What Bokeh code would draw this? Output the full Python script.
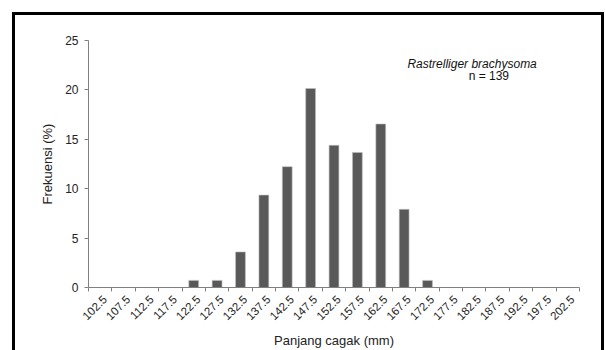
import math
from bokeh.plotting import figure
from bokeh.models import Range1d, FixedTicker, Label
from bokeh.embed import file_html
from bokeh.resources import INLINE

# ---- data ----
categories = ["102.5", "107.5", "112.5", "117.5", "122.5", "127.5", "132.5",
              "137.5", "142.5", "147.5", "152.5", "157.5", "162.5", "167.5",
              "172.5", "177.5", "182.5", "187.5", "192.5", "197.5", "202.5"]
frequency = [0, 0, 0, 0, 0.72, 0.72, 3.6, 9.35, 12.23, 20.14, 14.39, 13.67,
             16.55, 7.91, 0.72, 0, 0, 0, 0, 0, 0]
y_ticks = [0, 5, 10, 15, 20, 25]
species = "Rastrelliger brachysoma"
n_label = "n = 139"

centers = [float(c) for c in categories]
class_width = 5.0
edges = [c - class_width / 2 for c in centers] + [centers[-1] + class_width / 2]
label_shift = 1.0  # small visual shift so rotated labels end right of the class centre
label_pos = [c + label_shift for c in centers]

FONT = "Liberation Sans"

p = figure(width=606, height=350, output_backend="svg", toolbar_location=None,
           x_range=Range1d(edges[0], edges[-1]), y_range=Range1d(0, 25),
           min_border_left=88, min_border_right=27, min_border_top=40,
           min_border_bottom=63)
p.outline_line_color = None
p.xgrid.visible = False
p.ygrid.visible = False
p.background_fill_color = None
p.border_fill_color = None
# outer black frame (left, top, right) drawn behind the transparent canvas
p.styles = {
    "background": ("linear-gradient(#000,#000) 12px 12px / 3px 338px no-repeat, "
                   "linear-gradient(#000,#000) 12px 12px / 592px 3px no-repeat, "
                   "linear-gradient(#000,#000) 601px 12px / 3px 338px no-repeat, "
                   "#ffffff")
}

p.vbar(x=centers, top=frequency, width=2.1, bottom=0,
       fill_color="#595959", line_color="#bdbdbd", line_width=0.6)

# x axis: labels near class centres, ticks at class boundaries
xa = p.xaxis[0]
xa.ticker = FixedTicker(ticks=label_pos, minor_ticks=edges)
xa.major_label_overrides = {c: lab for c, lab in zip(label_pos, categories)}
xa.major_label_orientation = math.pi / 4
xa.major_tick_out = 0
xa.major_tick_in = 0
xa.minor_tick_out = 4
xa.minor_tick_in = 0
xa.minor_tick_line_color = "#808080"
xa.axis_line_color = "#808080"
xa.major_label_text_font = FONT
xa.major_label_text_font_size = "11.5px"
xa.major_label_text_color = "#222222"
xa.major_label_standoff = 6
xa.axis_label = "Panjang cagak (mm)"
xa.axis_label_text_font = FONT
xa.axis_label_text_font_size = "13px"
xa.axis_label_text_font_style = "normal"
xa.axis_label_text_color = "#222222"
xa.axis_label_standoff = 6

ya = p.yaxis[0]
ya.ticker = FixedTicker(ticks=y_ticks)
ya.minor_tick_line_color = None
ya.major_tick_out = 4
ya.major_tick_in = 0
ya.major_tick_line_color = "#808080"
ya.axis_line_color = "#808080"
ya.major_label_text_font = FONT
ya.major_label_text_font_size = "12px"
ya.major_label_text_color = "#222222"
ya.major_label_standoff = 6
ya.axis_label = "Frekuensi (%)"
ya.axis_label_text_font = FONT
ya.axis_label_text_font_size = "13px"
ya.axis_label_text_font_style = "normal"
ya.axis_label_text_color = "#222222"
ya.axis_label_standoff = 7

p.add_layout(Label(x=168.2, y=22.67, text=species, text_font=FONT,
                   text_font_size="12px", text_font_style="italic",
                   text_baseline="middle", text_align="left", text_color="#111111"))
p.add_layout(Label(x=181.3, y=21.36, text=n_label, text_font=FONT,
                   text_font_size="12px", text_baseline="middle",
                   text_align="left", text_color="#111111"))

open("out.html", "w").write(file_html(p, INLINE))
